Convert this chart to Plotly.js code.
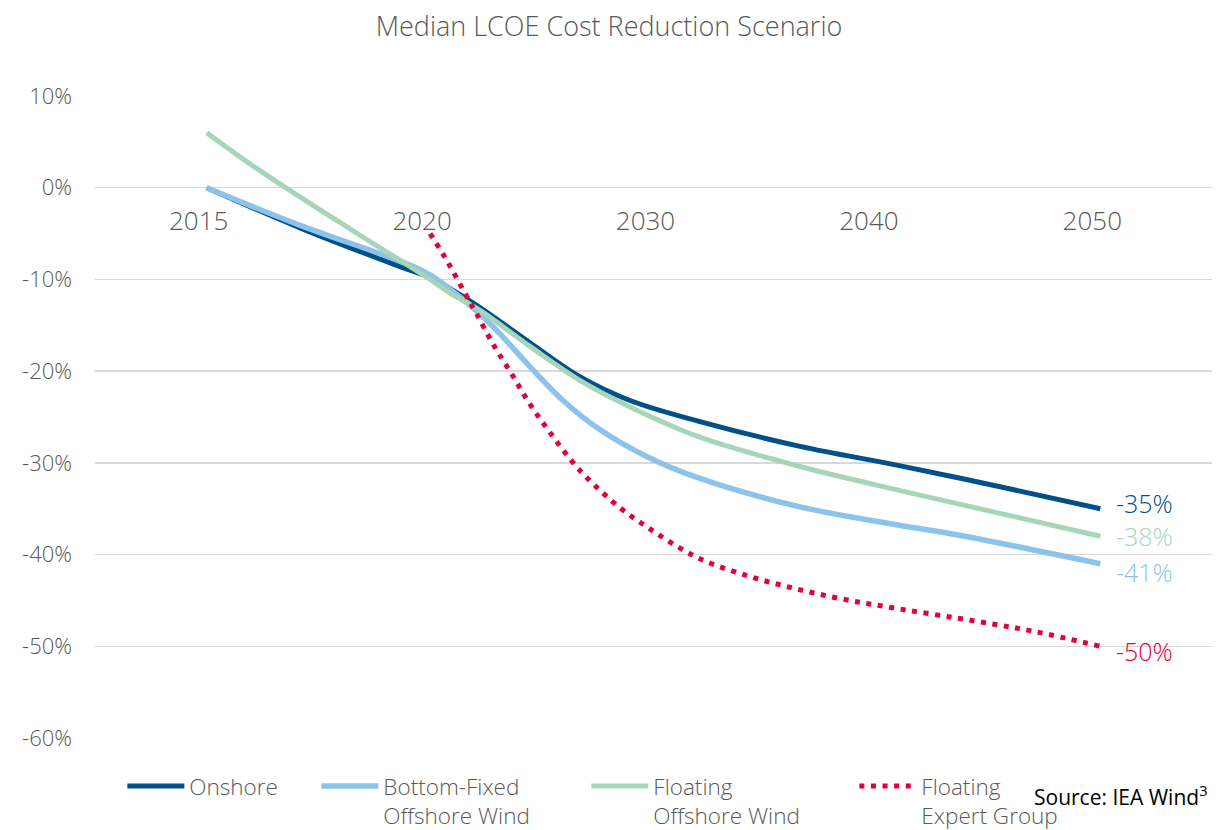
<!DOCTYPE html>
<html><head><meta charset="utf-8">
<script src="https://cdn.plot.ly/plotly-3.0.1.min.js"></script>
<style>html,body{margin:0;padding:0;background:#fff}#chart{width:1218px;height:830px}</style>
</head><body><div id="chart"></div>
<script>
// Category axis
const categories = ['2015', '2020', '2030', '2040', '2050'];
const categoryPos = [0, 1, 2, 3, 4];
const yTickVals = [10, 0, -10, -20, -30, -40, -50, -60];
const yTickText = ['10%', '0%', '-10%', '-20%', '-30%', '-40%', '-50%', '-60%'];

// Onshore (positions on category scale, values in %)
const onshoreX = [0, 0.42, 0.865, 1.0, 1.075, 1.225, 1.447, 1.67, 1.895, 2.208, 2.656, 3.1, 3.551, 4];
const onshoreY = [0, -4.4, -8.6, -9.8, -10.8, -13.1, -16.9, -20.6, -23.2, -25.5, -28.2, -30.3, -32.6, -35];

// Bottom-Fixed Offshore Wind
const fixedX = [0, 0.418, 0.865, 1.0, 1.148, 1.268, 1.447, 1.595, 1.761, 1.969, 2.208, 2.656, 3.1, 3.369, 4];
const fixedY = [0, -4.1, -8.0, -9.5, -12.2, -14.8, -19.5, -23.2, -26.4, -29.3, -31.7, -34.8, -36.8, -37.9, -41];

// Floating Offshore Wind
const floatX = [0, 0.23, 0.642, 0.865, 1.0, 1.09, 1.225, 1.447, 1.67, 1.895, 2.208, 2.656, 3.1, 3.369, 4];
const floatY = [6.0, 2.0, -4.5, -7.9, -10.0, -11.5, -13.4, -17.3, -21.0, -23.9, -27.2, -30.4, -33.0, -34.5, -38];

// Floating Expert Group
const expertX = [1.0, 1.081, 1.156, 1.209, 1.283, 1.365, 1.447, 1.537, 1.634, 1.701, 1.85, 1.984, 2.119, 2.23, 2.432, 2.633, 2.835, 3.044, 3.452, 3.708, 4];
const expertY = [-5.0, -8.2, -11.5, -13.8, -17.1, -20.3, -23.6, -26.7, -29.8, -31.6, -34.9, -37.2, -39.3, -40.7, -42.4, -43.7, -44.8, -45.7, -47.3, -48.4, -50];

const seriesNames = ['Onshore', 'Bottom-Fixed<br>Offshore Wind', 'Floating<br>Offshore Wind', 'Floating<br>Expert Group'];
const endLabels = ['-35%', '-41%', '-38%', '-50%'];
const colors = ['#00508C', '#8CC3EB', '#A7D5B9', '#E4003B'];

const FONT = 'Open Sans, sans-serif';
const GRAY = '#595959';

const xs = [onshoreX, fixedX, floatX, expertX];
const ys = [onshoreY, fixedY, floatY, expertY];
const widths = [5, 5.5, 5, 5];
const dashes = ['solid', 'solid', 'solid', '5px,6.6px'];
const legendWidths = [122, 198, 196, 170];

const traces = xs.map((x, i) => ({
  x: x, y: ys[i], type: 'scatter', mode: 'lines', name: seriesNames[i],
  line: {color: colors[i], width: widths[i], shape: 'spline', smoothing: 1, dash: dashes[i]},
  legendwidth: legendWidths[i],
  hoverinfo: 'skip'
}));

const yShifts = [6, -8, 0, -5];
const annotations = xs.map((x, i) => ({
  x: x[x.length - 1], y: ys[i][ys[i].length - 1], xref: 'x', yref: 'y',
  text: endLabels[i], showarrow: false, xanchor: 'left', yanchor: 'middle',
  xshift: 14, yshift: yShifts[i],
  font: {family: FONT, size: 25, color: colors[i], weight: 300}
}));
annotations.push({
  xref: 'paper', yref: 'paper', x: 1, y: -0.09, xanchor: 'right', yanchor: 'middle', xshift: -2,
  text: 'Source: IEA Wind<sup>3</sup>', showarrow: false,
  font: {family: 'Open Sans, sans-serif', size: 21, color: '#000'}
});

const layout = {
  width: 1218, height: 830,
  paper_bgcolor: '#fff', plot_bgcolor: '#fff',
  margin: {l: 95, r: 6, t: 96, b: 92, autoexpand: false},
  title: {text: 'Median LCOE Cost Reduction Scenario', x: 0.5, xanchor: 'center', yref: 'container', y: 0.968, yanchor: 'middle',
    font: {family: FONT, size: 27, color: GRAY, weight: 300}},
  xaxis: {
    range: [-0.5, 4.5], tickvals: categoryPos, ticktext: categories,
    anchor: 'free', position: 0.857142857, showgrid: false, zeroline: false, showline: false,
    ticks: '', ticklabelstandoff: 15, ticklabelshift: -8,
    tickfont: {family: FONT, size: 26, color: GRAY, weight: 300}
  },
  yaxis: {
    range: [-60, 10], tickvals: yTickVals, ticktext: yTickText,
    showgrid: true, gridcolor: '#D9D9D9', gridwidth: 1.3, zeroline: false, showline: false,
    ticks: '', ticklabelstandoff: 22,
    tickfont: {family: FONT, size: 22, color: GRAY, weight: 300}
  },
  legend: {
    orientation: 'h', x: 0.0245, xanchor: 'left', y: -0.042, yanchor: 'top',
    font: {family: FONT, size: 22.5, color: GRAY, weight: 300},
    valign: 'top', itemwidth: 57, traceorder: 'normal'
  },
  annotations: annotations,
  showlegend: true
};

Plotly.newPlot('chart', traces, layout, {displayModeBar: false, staticPlot: true});
</script>
</body></html>
